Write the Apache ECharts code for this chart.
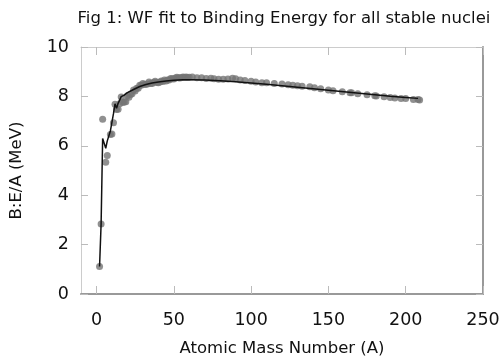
<!DOCTYPE html>
<html><head><meta charset="utf-8">
<script src="https://cdn.jsdelivr.net/npm/echarts@6/dist/echarts.min.js"></script>
<style>html,body{margin:0;padding:0;background:#fff}#c{width:503px;height:364px}</style>
</head><body><div id="c"></div>
<script>
// Measured binding energy per nucleon (stable nuclei)
const massNumbers = [2,3,4,6,7,9,10,11,12,13,14,15,16,17,18,19,20,21,22,23,24,25,26,27,28,29,30,31,32,33,34,35,36,37,38,39,40,41,42,43,44,45,46,47,48,49,50,51,52,53,54,55,56,57,58,59,60,62,65,68,71,74,76,79,82,85,88,90,93,96,100,103,107,110,115,120,124,127,130,133,138,141,145,150,153,159,164,165,169,175,180,181,186,190,193,197,200,205,208,209];
const bindingPerNucleon = [1.11,2.83,7.07,5.33,5.61,6.46,6.48,6.93,7.68,7.47,7.48,7.70,7.98,7.75,7.77,7.78,8.03,7.97,8.08,8.11,8.26,8.22,8.33,8.33,8.45,8.45,8.52,8.48,8.49,8.50,8.58,8.52,8.52,8.57,8.61,8.56,8.55,8.58,8.62,8.60,8.66,8.62,8.66,8.66,8.72,8.71,8.70,8.74,8.78,8.76,8.74,8.77,8.79,8.77,8.79,8.77,8.78,8.79,8.76,8.76,8.72,8.73,8.71,8.69,8.69,8.70,8.73,8.71,8.66,8.64,8.61,8.58,8.55,8.55,8.52,8.50,8.47,8.45,8.43,8.41,8.39,8.35,8.31,8.26,8.23,8.19,8.15,8.15,8.11,8.07,8.03,8.02,7.99,7.96,7.94,7.92,7.91,7.87,7.87,7.85];
// WF (Weizsaecker formula) fit
const fitMass = [2,3,4,6,7,9,10,11,12,13,14,15,16,18,20,24,28,32,36,40,45,50,56,62,70,80,90,100,110,120,130,140,150,160,170,180,190,200,208];
const fitValue = [1.11,2.83,6.30,5.90,6.20,6.60,6.95,7.30,7.70,7.52,7.72,7.85,7.99,8.05,8.15,8.28,8.40,8.48,8.54,8.58,8.62,8.65,8.67,8.67,8.66,8.63,8.59,8.54,8.49,8.43,8.37,8.31,8.25,8.19,8.13,8.07,8.01,7.96,7.92];
const xTicks = [0,50,100,150,200,250];

const font = 'DejaVu Sans';
const chart = echarts.init(document.getElementById('c'));
chart.setOption({
  animation:false,
  title:{text:'Fig 1: WF fit to Binding Energy for all stable nuclei',left:279,top:5,textAlign:'center',
    textStyle:{fontFamily:font,fontSize:16.5,fontWeight:'normal',color:'#111'}},
  grid:{left:81,top:47,right:20,bottom:70,show:false},
  xAxis:[{type:'value',min:-10,max:250,position:'bottom',
    name:'Atomic Mass Number (A)',nameLocation:'middle',nameGap:46,
    nameTextStyle:{fontFamily:font,fontSize:16.5,color:'#111'},
    axisLine:{show:true,onZero:false,lineStyle:{color:'#999',width:2}},
    axisTick:{show:true,inside:true,length:8,customValues:xTicks,lineStyle:{color:'#bbb'}},
    axisLabel:{customValues:xTicks,fontFamily:font,fontSize:17.5,color:'#111',margin:17},
    splitLine:{show:false}},
   {type:'value',min:-10,max:250,position:'top',
    axisLine:{show:true,onZero:false,lineStyle:{color:'#ccc',width:1}},
    axisTick:{show:true,inside:true,length:8,customValues:xTicks,lineStyle:{color:'#bbb'}},
    axisLabel:{show:false},splitLine:{show:false}}],
  yAxis:[{type:'value',min:0,max:10,interval:2,position:'left',
    name:'B:E/A (MeV)',nameLocation:'middle',nameGap:56,
    nameTextStyle:{fontFamily:font,fontSize:16.5,color:'#111'},
    axisLine:{show:true,onZero:false,lineStyle:{color:'#ccc',width:1}},
    axisTick:{show:true,inside:true,length:7,lineStyle:{color:'#bbb'}},
    axisLabel:{fontFamily:font,fontSize:17.5,color:'#111',margin:12},
    splitLine:{show:false}},
   {type:'value',min:0,max:10,interval:2,position:'right',
    axisLine:{show:true,onZero:false,lineStyle:{color:'#999',width:2}},
    axisTick:{show:true,inside:true,length:7,lineStyle:{color:'#bbb'}},
    axisLabel:{show:false},splitLine:{show:false}}],
  series:[
    {type:'scatter',data:massNumbers.map((a,i)=>[a,bindingPerNucleon[i]]),
     symbolSize:7,itemStyle:{color:'#747474'}},
    {type:'line',data:fitMass.map((a,i)=>[a,fitValue[i]]),showSymbol:false,
     lineStyle:{color:'#111',width:1.5}}
  ]
});
</script></body></html>
